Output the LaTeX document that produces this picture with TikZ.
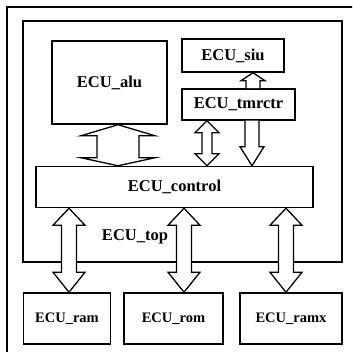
\documentclass[tikz,border=0pt]{standalone}
\usepackage{fontspec}
\setmainfont{Liberation Serif}
\usetikzlibrary{calc}

\tikzset{
  unitbox/.style={draw, line width=1.5pt, inner sep=0pt, font=\fontsize{16.5}{18}\selectfont\bfseries},
  membox/.style={unitbox, font=\fontsize{14.5}{16}\selectfont\bfseries},
  busarrow/.style={draw, line width=1.3pt, fill=white, line join=miter},
  framelines/.style={draw, line width=1.5pt}
}

% Vertical double-headed block arrow between two anchors, at a given x (px).
% #1 x, #2 upper anchor, #3 lower anchor, #4 shaft half width,
% #5 head half width, #6 upper head length, #7 lower head length
\newcommand\busboth[7]{%
  \path[busarrow] let \p1=(#2), \p2=(#3) in
    (#1pt,\y1) -- (#1pt+#5pt,\y1-#6pt) -- (#1pt+#4pt,\y1-#6pt)
    -- (#1pt+#4pt,\y2+#7pt) -- (#1pt+#5pt,\y2+#7pt) -- (#1pt,\y2)
    -- (#1pt-#5pt,\y2+#7pt) -- (#1pt-#4pt,\y2+#7pt)
    -- (#1pt-#4pt,\y1-#6pt) -- (#1pt-#5pt,\y1-#6pt) -- cycle;}

% Single-headed block arrow pointing down: #1 x, #2 upper, #3 lower,
% #4 shaft half width, #5 head half width, #6 head length
\newcommand\busdown[6]{%
  \path[busarrow] let \p1=(#2), \p2=(#3) in
    (#1pt-#4pt,\y1) -- (#1pt-#4pt,\y2+#6pt) -- (#1pt-#5pt,\y2+#6pt)
    -- (#1pt,\y2) -- (#1pt+#5pt,\y2+#6pt) -- (#1pt+#4pt,\y2+#6pt)
    -- (#1pt+#4pt,\y1);}

% Single-headed block arrow pointing up
\newcommand\busup[6]{%
  \path[busarrow] let \p1=(#2), \p2=(#3) in
    (#1pt-#4pt,\y2) -- (#1pt-#4pt,\y1-#6pt) -- (#1pt-#5pt,\y1-#6pt)
    -- (#1pt,\y1) -- (#1pt+#5pt,\y1-#6pt) -- (#1pt+#4pt,\y1-#6pt)
    -- (#1pt+#4pt,\y2);}

\begin{document}
\begin{tikzpicture}[x=1pt,y=-1pt]
\useasboundingbox (0,0) rectangle (352,352);
\clip (0,0) rectangle (352,352);
\fill[white] (0,0) rectangle (352,352);

% outer board frame, running off the right and bottom edges
\draw[framelines] (7,7) rectangle (362,362);

% top-level module
\node[unitbox, minimum width=319pt, minimum height=241pt] (top) at (182.5,141.5) {};
\node[font=\fontsize{16.5}{18}\selectfont\bfseries] (toplabel) at (135,237) {ECU\_top};

% inner units
\node[unitbox, minimum width=115pt, minimum height=83pt] (alu) at (109.5,82.5) {ECU\_alu};
\node[unitbox, minimum width=102pt, minimum height=33pt] (siu) at (233,55.5) {ECU\_siu};
\node[unitbox, minimum width=113pt, minimum height=31pt] (tmr) at (238.5,104.5) {ECU\_tmrctr};
\node[unitbox, minimum width=277pt, minimum height=41pt] (ctl) at (174.5,187) {ECU\_control};

% memories
\node[membox, minimum width=87pt, minimum height=51pt] (ram) at (67,318.5) {ECU\_ram};
\node[membox, minimum width=99pt, minimum height=51pt] (rom) at (173.5,318.5) {ECU\_rom};
\node[membox, minimum width=102pt, minimum height=51pt] (ramx) at (291,318.5) {ECU\_ramx};

% buses
\busboth{118}{alu.south}{ctl.north}{21}{37}{11}{8}
\busboth{207}{tmr.south}{ctl.north}{5}{12}{12}{12}
\busdown{252}{tmr.south}{ctl.north}{7}{12}{19}
\busup{253}{siu.south}{tmr.north}{7}{12}{8}

\busboth{69}{ctl.south}{ram.north}{7.5}{16}{17}{20}
\busboth{184}{ctl.south}{rom.north}{7.5}{16}{17}{20}
\busboth{286}{ctl.south}{ramx.north}{7.5}{16}{17}{20}
\end{tikzpicture}
\end{document}
